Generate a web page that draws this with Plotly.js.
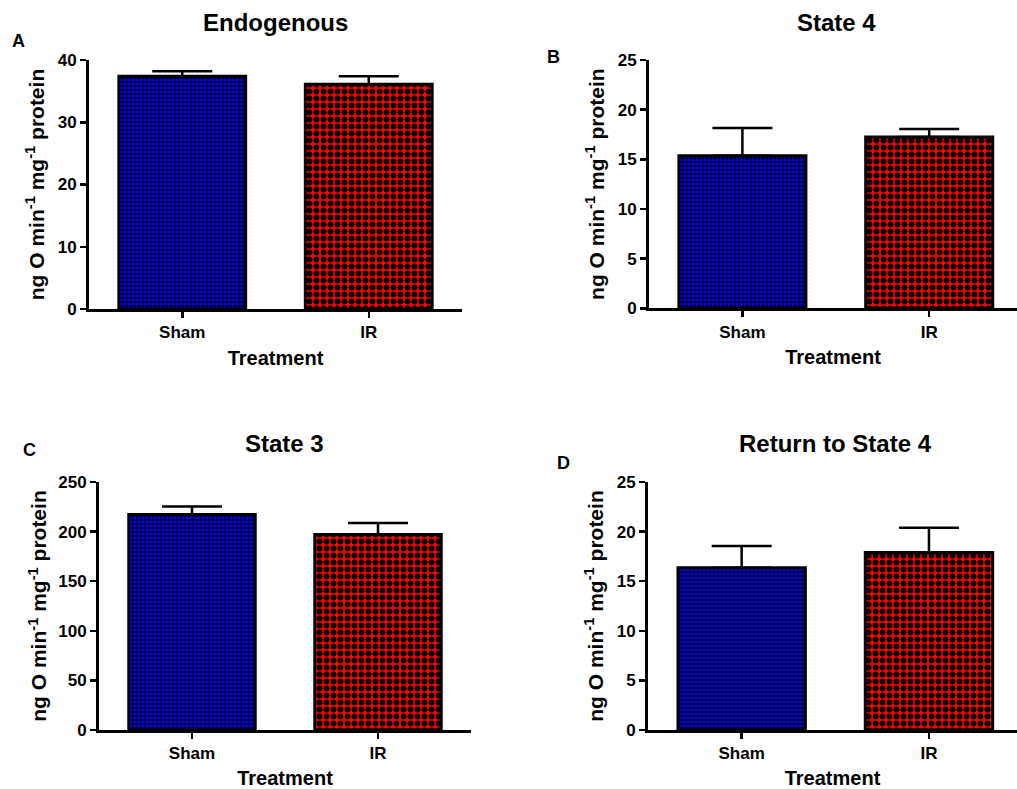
<!DOCTYPE html>
<html><head><meta charset="utf-8">
<script src="https://cdn.plot.ly/plotly-3.0.1.min.js"></script>
<style>html,body{margin:0;padding:0;background:#fff}#chart{width:1017px;height:789px}</style>
</head><body><div id="chart"></div>
<script>
// ---- data ----
const categories = ['Sham', 'IR'];
const panelTitles = ['Endogenous', 'State 4', 'State 3', 'Return to State 4'];
const panelLetters = ['A', 'B', 'C', 'D'];
const endogenousMean = [37.4, 36.1];
const endogenousSem = [0.8, 1.3];
const state4Mean = [15.35, 17.25];
const state4Sem = [2.8, 0.8];
const state3Mean = [217.3, 197.1];
const state3Sem = [7.9, 11.6];
const returnState4Mean = [16.35, 17.9];
const returnState4Sem = [2.2, 2.5];
const yTickVals = [[0, 10, 20, 30, 40], [0, 5, 10, 15, 20, 25], [0, 50, 100, 150, 200, 250], [0, 5, 10, 15, 20, 25]];
const yMax = [40, 25, 250, 25];
const yTitle = 'ng O min<sup>-1</sup> mg<sup>-1</sup> protein';
const xTitle = 'Treatment';

// ---- layout helpers ----
const W = 1017, H = 789;
const px = v => v / W;
const py = v => 1 - v / H;
const FONT = 'Arial, "Liberation Sans", sans-serif';

const means = [endogenousMean, state4Mean, state3Mean, returnState4Mean];
const sems = [endogenousSem, state4Sem, state3Sem, returnState4Sem];

const panels = [
  {xd: [px(89), px(462)], yd: [py(309), py(60)], xr: [-0.5, 1.5], yStand: 8, titleX: 275, titleY: 22, letX: 18, letY: 41},
  {xd: [px(649), 1], yd: [py(308.3), py(60)], xr: [-0.5, 1.47], yStand: 8, titleX: 836, titleY: 22, letX: 553, letY: 57},
  {xd: [px(99), px(471)], yd: [py(730), py(482)], xr: [-0.5, 1.5], yStand: 6, titleX: 284, titleY: 443, letX: 29, letY: 450},
  {xd: [px(648), 1], yd: [py(730), py(482)], xr: [-0.5, 1.47], yStand: 8, titleX: 835, titleY: 443, letX: 563, letY: 463}
];

const barStyles = [
  {color: '#0000ee', pattern: {shape: '.', fgcolor: '#000000', bgcolor: '#0000ee', size: 4, solidity: 0.5, fillmode: 'replace'}},
  {color: '#ff0000', pattern: {shape: '.', fgcolor: '#000000', bgcolor: '#ff0000', size: 7, solidity: 0.55, fillmode: 'replace'}}
];

const traces = [];
const layout = {
  width: W, height: H,
  margin: {l: 0, r: 0, t: 0, b: 0},
  paper_bgcolor: '#ffffff', plot_bgcolor: 'rgba(0,0,0,0)',
  showlegend: false,
  font: {family: FONT, color: '#000000', weight: 'bold'},
  annotations: []
};

panels.forEach((p, i) => {
  const n = i === 0 ? '' : String(i + 1);
  categories.forEach((c, j) => {
    traces.push({
      type: 'bar',
      x: [c], y: [means[i][j]],
      xaxis: 'x' + n, yaxis: 'y' + n,
      width: 0.68,
      marker: {color: barStyles[j].color, pattern: barStyles[j].pattern, line: {color: '#000000', width: 3}},
      error_y: {type: 'data', symmetric: false, array: [sems[i][j]], arrayminus: [0], color: '#000000', thickness: 2.5, width: 30},
      hoverinfo: 'x+y'
    });
  });
  layout['xaxis' + n] = {
    domain: p.xd, anchor: 'y' + n, type: 'category', categoryorder: 'array', categoryarray: categories,
    range: p.xr, showline: true, linecolor: '#000000', linewidth: 3,
    ticks: 'outside', ticklen: 6, tickwidth: 2.5, tickcolor: '#000000',
    showgrid: false, zeroline: false, fixedrange: true, automargin: false,
    tickfont: {family: FONT, size: 17, color: '#000000', weight: 'bold'},
    title: {text: xTitle, standoff: 10, font: {family: FONT, size: 20, color: '#000000', weight: 'bold'}}
  };
  layout['yaxis' + n] = {
    domain: p.yd, anchor: 'x' + n, range: [0, yMax[i]], tickvals: yTickVals[i],
    showline: true, linecolor: '#000000', linewidth: 3,
    ticks: 'outside', ticklen: 6, tickwidth: 2.5, tickcolor: '#000000',
    showgrid: false, zeroline: false, fixedrange: true, automargin: false,
    tickfont: {family: FONT, size: 17, color: '#000000', weight: 'bold'},
    title: {text: yTitle, standoff: p.yStand, font: {family: FONT, size: 21, color: '#000000', weight: 'bold'}}
  };
  layout.annotations.push(
    {text: panelTitles[i], x: px(p.titleX), y: py(p.titleY), xref: 'paper', yref: 'paper', showarrow: false, xanchor: 'center', yanchor: 'middle', font: {family: FONT, size: 24, color: '#000000', weight: 'bold'}},
    {text: panelLetters[i], x: px(p.letX), y: py(p.letY), xref: 'paper', yref: 'paper', showarrow: false, xanchor: 'center', yanchor: 'middle', font: {family: FONT, size: 18, color: '#000000', weight: 'bold'}}
  );
});

Plotly.newPlot('chart', traces, layout, {displayModeBar: false, staticPlot: true});
</script>
</body></html>
